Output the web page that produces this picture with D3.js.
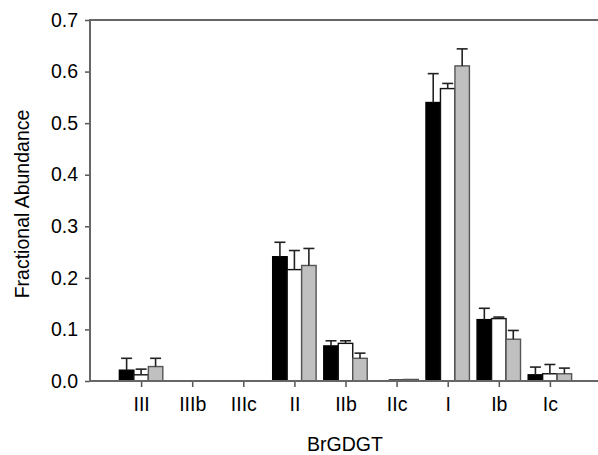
<!DOCTYPE html>
<html>
<head>
<meta charset="utf-8">
<script src="https://cdn.jsdelivr.net/npm/d3@7"></script>
<style>
  html, body { margin: 0; padding: 0; background: #fff; }
  svg { display: block; font-family: "Liberation Sans", Arial, sans-serif; }
</style>
</head>
<body>
<svg id="chart" width="598" height="455"></svg>
<script>
// BrGDGT fractional abundances for three sample groups (mean and +1 SD)
const categories = ["III", "IIIb", "IIIc", "II", "IIb", "IIc", "I", "Ib", "Ic"];
const seriesNames = ["A", "B", "C"];
const meanA = [0.021, 0, 0, 0.241, 0.068, 0, 0.540, 0.119, 0.012];
const meanB = [0.012, 0, 0, 0.216, 0.073, 0.002, 0.567, 0.121, 0.014];
const meanC = [0.028, 0, 0, 0.224, 0.044, 0.003, 0.611, 0.081, 0.014];
const errA = [0.023, 0, 0, 0.028, 0.010, 0, 0.056, 0.022, 0.015];
const errB = [0.011, 0, 0, 0.037, 0.005, 0, 0.010, 0.003, 0.018];
const errC = [0.016, 0, 0, 0.033, 0.010, 0, 0.033, 0.017, 0.011];
const yTicks = [0, 0.1, 0.2, 0.3, 0.4, 0.5, 0.6, 0.7];

const fills = ["#000000", "#ffffff", "#c0c0c0"];
const strokes = ["#000000", "#111111", "#555555"];

const svg = d3.select("#chart");
const left = 90;
const fontFam = "Liberation Sans, Arial, sans-serif";
const fs = 19.5;

// categories sit at 1..9 on a 0..10 linear axis
const x = d3.scaleLinear().domain([0, categories.length + 1]).range([left, 601]);
const y = d3.scaleLinear().domain([0, 0.7]).range([381, 20]);

const step = x(1) - x(0);
const groupW = step * 0.85;
const barW = groupW / 3;

const means = [meanA, meanB, meanC];
const errs = [errA, errB, errC];

const rows = [];
categories.forEach((c, i) => {
  seriesNames.forEach((s, k) => {
    rows.push({ cat: c, i, k, v: means[k][i], e: errs[k][i] });
  });
});

const g = svg.append("g");
const cx = d => x(d.i + 1) - groupW / 2 + (d.k + 0.5) * barW;

// bars
g.selectAll("rect.bar").data(rows.filter(d => d.v > 0)).enter().append("rect")
  .attr("class", "bar")
  .attr("x", d => x(d.i + 1) - groupW / 2 + d.k * barW)
  .attr("y", d => y(d.v))
  .attr("width", barW)
  .attr("height", d => y(0) - y(d.v))
  .attr("fill", d => fills[d.k])
  .attr("stroke", d => strokes[d.k])
  .attr("stroke-width", 1.4);

// upper error bars
const eb = rows.filter(d => d.e > 0);
g.selectAll("line.err").data(eb).enter().append("line")
  .attr("x1", cx).attr("x2", cx)
  .attr("y1", d => y(d.v))
  .attr("y2", d => y(d.v + d.e))
  .attr("stroke", "#222").attr("stroke-width", 1.6);
g.selectAll("line.cap").data(eb).enter().append("line")
  .attr("x1", d => cx(d) - 5.5)
  .attr("x2", d => cx(d) + 5.5)
  .attr("y1", d => y(d.v + d.e))
  .attr("y2", d => y(d.v + d.e))
  .attr("stroke", "#222").attr("stroke-width", 1.6);

// y axis
const yAxis = d3.axisLeft(y).tickValues(yTicks).tickFormat(d3.format(".1f")).tickSize(5).tickPadding(7);
const ya = svg.append("g").attr("transform", `translate(${left},0)`).call(yAxis);
ya.select(".domain").remove();
ya.selectAll(".tick line").attr("stroke", "#555").attr("stroke-width", 1.5);
ya.selectAll(".tick text").attr("font-size", fs).attr("fill", "#000").attr("font-family", fontFam);

// x axis
const xAxis = d3.axisBottom(x).tickValues(d3.range(1, categories.length + 1))
  .tickFormat(d => categories[d - 1]).tickSize(6).tickPadding(10);
const xa = svg.append("g").attr("transform", `translate(0,${y(0)})`).call(xAxis);
xa.select(".domain").remove();
xa.selectAll(".tick line").attr("stroke", "#555").attr("stroke-width", 1.5);
xa.selectAll(".tick text").attr("font-size", fs).attr("fill", "#000").attr("font-family", fontFam);

// frame lines: left, top, bottom
const frame = svg.append("g").attr("stroke", "#666").attr("stroke-width", 2);
frame.append("line").attr("x1", left).attr("x2", left).attr("y1", y(0.7)).attr("y2", y(0));
frame.append("line").attr("x1", left - 1).attr("x2", x(categories.length + 1)).attr("y1", y(0.7)).attr("y2", y(0.7));
frame.append("line").attr("x1", left - 1).attr("x2", x(categories.length + 1)).attr("y1", y(0)).attr("y2", y(0));

// axis titles
svg.append("text").attr("x", 345).attr("y", 451).attr("text-anchor", "middle")
  .attr("font-size", fs).attr("fill", "#000").attr("font-family", fontFam).text("BrGDGT");
svg.append("text").attr("transform", "translate(29,204) rotate(-90)").attr("text-anchor", "middle")
  .attr("font-size", fs).attr("fill", "#000").attr("font-family", fontFam).text("Fractional Abundance");
</script>
</body>
</html>
